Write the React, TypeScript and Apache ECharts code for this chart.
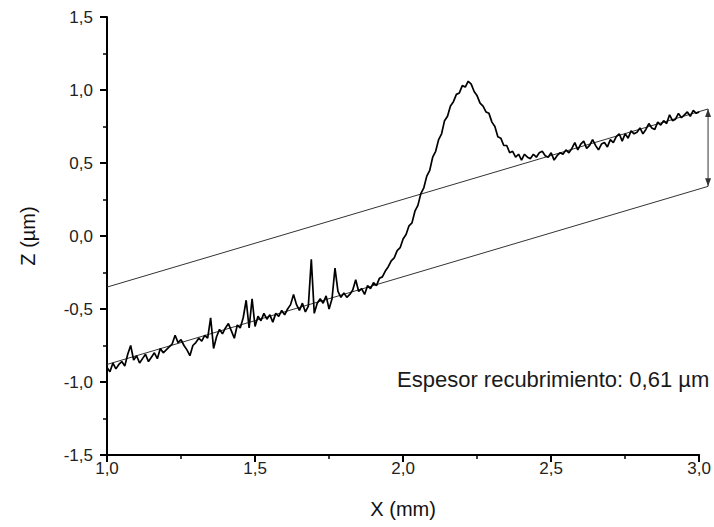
import React, { useEffect, useRef } from "react";
import * as echarts from "echarts";

// Profile sampled every 0.01 mm starting at 1.00 mm (Z in µm)
const xStart = 1.0;
const xStep = 0.01;
const profileZ = [
  -0.90, -0.93, -0.87, -0.91, -0.88, -0.86, -0.89, -0.81, -0.75, -0.85,
  -0.82, -0.87, -0.84, -0.81, -0.86, -0.83, -0.80, -0.84, -0.77, -0.80,
  -0.78, -0.76, -0.74, -0.68, -0.73, -0.71, -0.75, -0.78, -0.82, -0.75,
  -0.73, -0.70, -0.72, -0.68, -0.70, -0.56, -0.77, -0.69, -0.64, -0.67,
  -0.63, -0.60, -0.65, -0.70, -0.61, -0.63, -0.56, -0.44, -0.63, -0.43,
  -0.62, -0.55, -0.58, -0.53, -0.57, -0.54, -0.59, -0.53, -0.55, -0.51,
  -0.54, -0.50, -0.47, -0.40, -0.47, -0.51, -0.46, -0.52, -0.48, -0.16,
  -0.53, -0.46, -0.43, -0.46, -0.41, -0.50, -0.43, -0.22, -0.38, -0.42,
  -0.39, -0.42, -0.40, -0.37, -0.30, -0.38, -0.36, -0.40, -0.34, -0.36,
  -0.32, -0.34, -0.29, -0.28, -0.24, -0.21, -0.17, -0.15, -0.10, -0.08,
  -0.02, 0.01, 0.07, 0.09, 0.17, 0.21, 0.29, 0.33, 0.41, 0.45,
  0.54, 0.58, 0.66, 0.70, 0.79, 0.82, 0.89, 0.92, 0.97, 0.98,
  1.03, 1.02, 1.06, 1.04, 0.99, 0.96, 0.91, 0.89, 0.85, 0.84,
  0.78, 0.75, 0.68, 0.67, 0.62, 0.62, 0.57, 0.58, 0.54, 0.56,
  0.52, 0.56, 0.54, 0.53, 0.56, 0.54, 0.57, 0.58, 0.55, 0.54,
  0.57, 0.52, 0.55, 0.57, 0.56, 0.59, 0.57, 0.60, 0.64, 0.59,
  0.63, 0.65, 0.60, 0.62, 0.66, 0.62, 0.59, 0.63, 0.64, 0.61,
  0.66, 0.64, 0.68, 0.70, 0.65, 0.70, 0.67, 0.72, 0.70, 0.71,
  0.74, 0.70, 0.73, 0.77, 0.74, 0.73, 0.78, 0.76, 0.79, 0.77,
  0.83, 0.79, 0.80, 0.84, 0.81, 0.83, 0.85, 0.82, 0.86, 0.84,
  0.85,
];

// Reference lines (coating top and substrate)
const upperLine: [number, number][] = [[1.0, -0.35], [3.03, 0.87]];
const lowerLine: [number, number][] = [[1.0, -0.88], [3.03, 0.34]];
// Thickness arrow: [x, top z, bottom z]
const arrowData = [[3.03, 0.87, 0.34]];

const annotation = "Espesor recubrimiento: 0,61 µm";
const xName = "X (mm)";
const yName = "Z (µm)";

const fmt = (v: number) => v.toFixed(1).replace(".", ",");

export default function App() {
  const ref = useRef<HTMLDivElement>(null);
  useEffect(() => {
    if (!ref.current) return;
    const chart = echarts.init(ref.current, undefined, { renderer: "svg" });
    const profile = profileZ.map((z, i) => [+(xStart + i * xStep).toFixed(2), z]);
    const font = "Arial, 'Liberation Sans', sans-serif";
    const axisCommon = {
      axisLine: { show: true, onZero: false, lineStyle: { color: "#000", width: 2 } },
      axisTick: { show: true, inside: false, length: 7, lineStyle: { color: "#000", width: 2 } },
      minorTick: { show: true, splitNumber: 2, length: 4, lineStyle: { color: "#000", width: 1.5 } },
      splitLine: { show: false },
      minorSplitLine: { show: false },
      axisLabel: { color: "#222", fontSize: 17, fontFamily: font, formatter: fmt },
      nameTextStyle: { color: "#111", fontSize: 20, fontFamily: font },
    };
    const refLine = (d: [number, number][]) => ({
      type: "custom",
      data: d,
      clip: false,
      silent: true,
      renderItem: (params: any, api: any) => {
        if (params.dataIndex !== 0) return null;
        const p0 = api.coord(d[0]);
        const p1 = api.coord(d[1]);
        return {
          type: "line",
          shape: { x1: p0[0], y1: p0[1], x2: p1[0], y2: p1[1] },
          style: { stroke: "#333", lineWidth: 1 },
        };
      },
    });
    chart.setOption({
      animation: false,
      backgroundColor: "#fff",
      grid: { left: 107, right: 8, top: 17, bottom: 72, containLabel: false },
      xAxis: {
        type: "value",
        min: 1,
        max: 3,
        interval: 0.5,
        name: xName,
        nameLocation: "middle",
        nameGap: 44,
        ...axisCommon,
        axisLabel: { ...axisCommon.axisLabel, margin: 5 },
      },
      yAxis: {
        type: "value",
        min: -1.5,
        max: 1.5,
        interval: 0.5,
        name: yName,
        nameLocation: "middle",
        nameGap: 69,
        nameRotate: 90,
        ...axisCommon,
        axisLabel: { ...axisCommon.axisLabel, margin: 14 },
      },
      series: [
        refLine(upperLine),
        refLine(lowerLine),
        {
          type: "custom",
          data: arrowData,
          clip: false,
          silent: true,
          renderItem: (params: any, api: any) => {
            const top = api.coord([api.value(0), api.value(1)]);
            const bot = api.coord([api.value(0), api.value(2)]);
            const x = top[0];
            const h = 8;
            const w = 3;
            return {
              type: "group",
              children: [
                {
                  type: "line",
                  shape: { x1: x, y1: top[1], x2: x, y2: bot[1] },
                  style: { stroke: "#555", lineWidth: 1.2 },
                },
                {
                  type: "polygon",
                  shape: { points: [[x, top[1]], [x - w, top[1] + h], [x + w, top[1] + h]] },
                  style: { fill: "#333" },
                },
                {
                  type: "polygon",
                  shape: { points: [[x, bot[1]], [x - w, bot[1] - h], [x + w, bot[1] - h]] },
                  style: { fill: "#333" },
                },
              ],
            };
          },
        },
        {
          type: "line",
          data: profile,
          symbol: "none",
          clip: false,
          lineStyle: { color: "#000", width: 1.7 },
          silent: true,
        },
      ],
      graphic: [
        {
          type: "text",
          left: 397,
          top: 368,
          style: { text: annotation, fill: "#1a1a1a", fontSize: 22, fontFamily: font },
        },
      ],
    });
    return () => chart.dispose();
  }, []);
  return <div ref={ref} style={{ width: 714, height: 527, position: "absolute", left: 0, top: 0 }} />;
}
